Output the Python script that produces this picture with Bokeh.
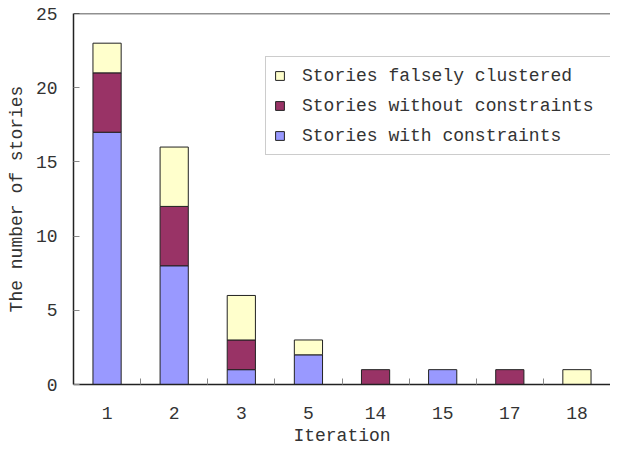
from bokeh.plotting import figure
from bokeh.models import (FixedTicker, Range1d, Legend, LegendItem, Span,
                          ColumnDataSource)
from bokeh.embed import file_html
from bokeh.resources import INLINE

iterations = ["1", "2", "3", "5", "14", "15", "17", "18"]
with_constraints = [17, 8, 1, 2, 0, 1, 0, 0]
without_constraints = [4, 4, 2, 0, 1, 0, 1, 0]
falsely_clustered = [2, 4, 3, 1, 0, 0, 0, 1]
y_ticks = [0, 5, 10, 15, 20, 25]

FONT = "Liberation Mono"
TXT = "#333333"

xpos = [i + 0.5 for i in range(len(iterations))]

p = figure(width=610, height=448, output_backend="svg", toolbar_location=None,
           x_range=Range1d(0, len(iterations)), y_range=Range1d(0, 25))
p.min_border_left = 73
p.min_border_right = 0
p.min_border_top = 13
p.min_border_bottom = 64
p.outline_line_color = None
p.xgrid.visible = False
p.ygrid.visible = False

# stacked segments (zero-height segments omitted)
series = [with_constraints, without_constraints, falsely_clustered]
colors = ["#9999FF", "#993366", "#FFFFCC"]
renderers = []
base = [0] * len(iterations)
for vals, col in zip(series, colors):
    xs, bots, tops = [], [], []
    for i, v in enumerate(vals):
        if v > 0:
            xs.append(xpos[i])
            bots.append(base[i])
            tops.append(base[i] + v)
    base = [b + v for b, v in zip(base, vals)]
    src = ColumnDataSource(dict(x=xs, bottom=bots, top=tops))
    r = p.vbar(x="x", bottom="bottom", top="top", width=0.42, source=src,
               fill_color=col, line_color="#222222", line_width=1)
    renderers.append(r)

p.add_layout(Span(location=25, dimension="width", line_color="#222222",
                  line_width=1.5))

# x axis
xa = p.xaxis[0]
xa.ticker = FixedTicker(ticks=xpos, minor_ticks=list(range(1, len(iterations))))
xa.major_label_overrides = {x: lab for x, lab in zip(xpos, iterations)}
xa.major_tick_in = 0
xa.major_tick_out = 0
xa.minor_tick_in = 6
xa.minor_tick_out = 0
xa.minor_tick_line_color = "#888888"
xa.axis_line_color = "#222222"
xa.axis_line_width = 1.5
xa.major_label_text_font = FONT
xa.major_label_text_font_size = "18px"
xa.major_label_text_color = TXT
xa.major_label_text_line_height = 0.7
xa.major_label_standoff = 22
xa.axis_label = "Iteration"
xa.axis_label_text_font = FONT
xa.axis_label_text_font_size = "18px"
xa.axis_label_text_font_style = "normal"
xa.axis_label_text_color = TXT
xa.axis_label_text_line_height = 0.7
xa.axis_label_standoff = 4

# y axis
ya = p.yaxis[0]
ya.ticker = FixedTicker(ticks=y_ticks, minor_ticks=[])
ya.major_tick_in = 6
ya.major_tick_out = 0
ya.major_tick_line_color = "#888888"
ya.axis_line_color = "#222222"
ya.axis_line_width = 1.5
ya.major_label_text_font = FONT
ya.major_label_text_font_size = "18px"
ya.major_label_text_color = TXT
ya.major_label_standoff = 16
ya.axis_label = "The number of stories"
ya.axis_label_text_font = FONT
ya.axis_label_text_font_size = "18px"
ya.axis_label_text_font_style = "normal"
ya.axis_label_text_color = TXT
ya.axis_label_standoff = 6

legend = Legend(items=[
    LegendItem(label="Stories falsely clustered", renderers=[renderers[2]]),
    LegendItem(label="Stories without constraints", renderers=[renderers[1]]),
    LegendItem(label="Stories with constraints", renderers=[renderers[0]]),
], location=(192, 229), margin=0, padding=8, spacing=9,
    glyph_width=11, glyph_height=11, label_height=21, label_standoff=17,
    label_width=300,
    label_text_font=FONT, label_text_font_size="18px", label_text_color=TXT,
    border_line_color="#999999", border_line_width=1,
    background_fill_color="white", background_fill_alpha=1.0)
p.add_layout(legend)

open("out.html", "w").write(file_html(p, INLINE))
